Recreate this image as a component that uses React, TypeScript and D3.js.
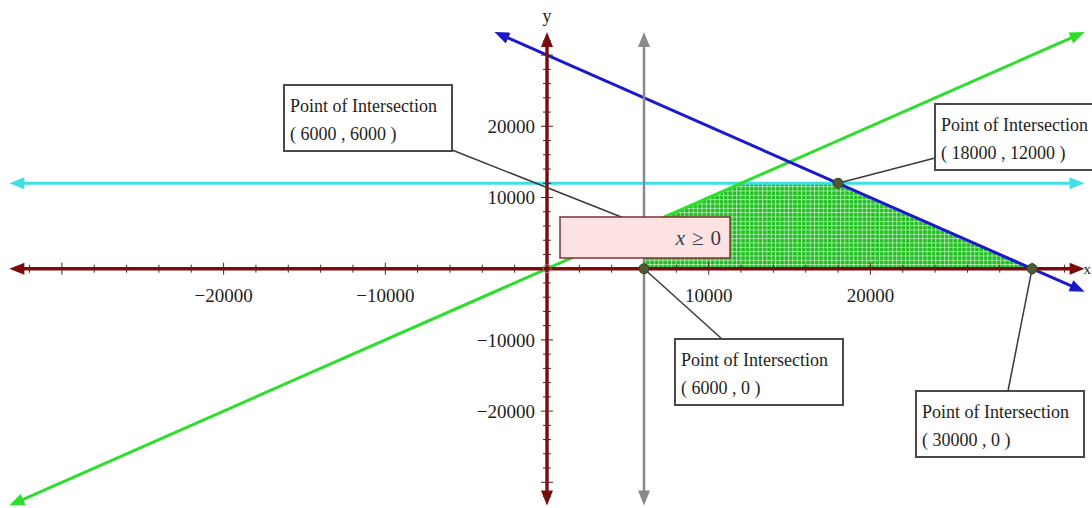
import React from 'react';
import * as d3 from 'd3';

// ---- data ----
const xTickValues = [-20000, -10000, 10000, 20000];
const yTickValues = [-20000, -10000, 10000, 20000];
const minorStep = 2000;
const plotExtent = 33250;

// constraint lines
const horizontalLines = [{ name: 'y = 12000', y: 12000 }];
const verticalLines = [{ name: 'x = 6000', x: 6000 }];
// y = a + b*x
const slopedLines = [
  { name: 'y = x', a: 0, b: 1 },
  { name: 'x + y = 30000', a: 30000, b: -1 },
];

const feasibleRegion: [number, number][] = [
  [6000, 0], [6000, 6000], [12000, 12000], [18000, 12000], [30000, 0],
];

const intersectionLabels = ['( 6000 , 6000 )', '( 18000 , 12000 )', '( 6000 , 0 )', '( 30000 , 0 )'];
const intersectionX = [6000, 18000, 6000, 30000];
const intersectionY = [6000, 12000, 0, 0];

const W = 1092;
const H = 508;
const FONT = '"Liberation Serif", "Times New Roman", serif';

function arrowHead(x0: number, y0: number, x1: number, y1: number, len = 15, w = 12) {
  const dx = x1 - x0, dy = y1 - y0;
  const L = Math.hypot(dx, dy);
  const ux = dx / L, uy = dy / L;
  const bx = x1 - ux * len, by = y1 - uy * len;
  const px = -uy, py = ux;
  return `M${x1},${y1}L${bx + (px * w) / 2},${by + (py * w) / 2}L${bx - (px * w) / 2},${by - (py * w) / 2}Z`;
}

function ArrowLine({ x0, y0, x1, y1, color, width = 3 }: any) {
  const dx = x1 - x0, dy = y1 - y0;
  const L = Math.hypot(dx, dy);
  const ux = dx / L, uy = dy / L;
  const s = 9;
  return (
    <g>
      <line x1={x0 + ux * s} y1={y0 + uy * s} x2={x1 - ux * s} y2={y1 - uy * s} stroke={color} strokeWidth={width} />
      <path d={arrowHead(x0, y0, x1, y1)} fill={color} />
      <path d={arrowHead(x1, y1, x0, y0)} fill={color} />
    </g>
  );
}

export default function App() {
  const x = d3.scaleLinear().domain([-20000, 20000]).range([223.6, 870.4]);
  const y = d3.scaleLinear().domain([-20000, 20000]).range([411.1, 126.3]);
  const E = plotExtent;

  const maroon = '#7c0a0a';
  const blue = '#1a1ac8';
  const green = '#2ede2e';
  const cyan = '#3ee0e6';
  const grayC = '#8a8a8a';
  const textC = '#1e1e1e';
  const lineColors: Record<string, string> = { 'y = x': green, 'x + y = 30000': blue };

  const minorTicks = d3.range(-32000, 32001, minorStep).filter((v) => v !== 0);

  const regionPath = d3.line()(feasibleRegion.map(([a, b]) => [x(a), y(b)] as [number, number]))! + 'Z';

  // annotation boxes (layout)
  const boxes = [
    { left: 284, top: 85, ax: 452, ay: 150 },
    { left: 935, top: 104, ax: 935, ay: 158 },
    { left: 675, top: 339, ax: 722, ay: 339 },
    { left: 916, top: 391, ax: 1008, ay: 391 },
  ];
  const boxW = 168, boxH = 66;

  return (
    <div style={{ position: 'absolute', left: 0, top: 0 }}>
      <svg width={W} height={H} style={{ display: 'block', background: '#fff' }} fontFamily={FONT}>
        <defs>
          <pattern id="hatch" width="4.33" height="4.33" patternUnits="userSpaceOnUse">
            <rect width="4.33" height="4.33" fill="#1fbf1f" />
            <line x1="0.5" y1="0" x2="0.5" y2="4.33" stroke="#ffffff" strokeOpacity="0.55" strokeWidth="1" />
            <line x1="0" y1="0.5" x2="4.33" y2="0.5" stroke="#ffffff" strokeOpacity="0.55" strokeWidth="1" />
          </pattern>
        </defs>

        {/* feasible region */}
        <path d={regionPath} fill="url(#hatch)" />

        {/* constraint lines */}
        {horizontalLines.map((l) => (
          <ArrowLine key={l.name} x0={x(-E)} y0={y(l.y)} x1={x(E)} y1={y(l.y)} color={cyan} width={3} />
        ))}
        {slopedLines.map((l) => {
          const xa = (-E - l.a) / l.b, xb = (E - l.a) / l.b;
          const xs = Math.max(-E, Math.min(xa, xb));
          const xe = Math.min(E, Math.max(xa, xb));
          return (
            <ArrowLine key={l.name} x0={x(xs)} y0={y(l.a + l.b * xs)} x1={x(xe)} y1={y(l.a + l.b * xe)}
              color={lineColors[l.name]} width={3} />
          );
        })}
        {verticalLines.map((l) => (
          <ArrowLine key={l.name} x0={x(l.x)} y0={y(-E)} x1={x(l.x)} y1={y(E)} color={grayC} width={2.5} />
        ))}

        {/* axes */}
        <ArrowLine x0={x(-E)} y0={y(0)} x1={x(E)} y1={y(0)} color={maroon} width={3.4} />
        <ArrowLine x0={x(0)} y0={y(-E)} x1={x(0)} y1={y(E)} color={maroon} width={3.4} />
        {minorTicks.map((v) => {
          const major = v % 10000 === 0;
          const h = major ? 6 : 4;
          return (
            <g key={'t' + v} stroke="#5a2020" strokeWidth={1}>
              <line x1={x(v)} x2={x(v)} y1={y(0) - h} y2={y(0) + h} />
              <line x1={x(0) - h} x2={x(0) + h} y1={y(v)} y2={y(v)} />
            </g>
          );
        })}
        {xTickValues.map((v) => (
          <text key={'xl' + v} x={x(v)} y={y(0) + 33} textAnchor="middle" fontSize={19} fill={textC}>
            {v < 0 ? '\u2212' + Math.abs(v) : String(v)}
          </text>
        ))}
        {yTickValues.map((v) => (
          <text key={'yl' + v} x={x(0) - 12} y={y(v)} dy="0.35em" textAnchor="end" fontSize={19} fill={textC}>
            {v < 0 ? '\u2212' + Math.abs(v) : String(v)}
          </text>
        ))}
        <text x={x(0)} y={22} textAnchor="middle" fontSize={18} fill={textC}>y</text>
        <text x={1091} y={y(0) + 5} textAnchor="end" fontSize={15} fill={textC}>x</text>

        {/* origin marker */}
        <circle cx={x(0)} cy={y(0)} r={4} fill="none" stroke="#c07070" strokeWidth={1} />

        {/* leader lines */}
        {intersectionX.map((vx, i) => (
          <line key={'ld' + i} x1={x(vx)} y1={y(intersectionY[i])} x2={boxes[i].ax} y2={boxes[i].ay}
            stroke="#3a3a3a" strokeWidth={1.5} />
        ))}

        {/* intersection points */}
        {intersectionX.map((vx, i) => (
          <circle key={'pt' + i} cx={x(vx)} cy={y(intersectionY[i])} r={5} fill="#4f5a34" stroke="#3c4428" strokeWidth={1} />
        ))}

        {/* annotation boxes */}
        {intersectionLabels.map((lab, i) => {
          const b = boxes[i];
          return (
            <g key={'bx' + i}>
              <rect x={b.left} y={b.top} width={boxW} height={boxH} fill="#ffffff" stroke="#4a4a4a" strokeWidth={2} />
              <text x={b.left + 6} y={b.top + 27} fontSize={18} fill={textC}>Point of Intersection</text>
              <text x={b.left + 6} y={b.top + 55} fontSize={18} fill={textC}>{lab}</text>
            </g>
          );
        })}

        {/* constraint label */}
        <rect x={560} y={217} width={170} height={41} fill="#fde2e2" stroke="#7a3434" strokeWidth={1.5} />
        <text x={721} y={245} textAnchor="end" fontSize={21} fill="#3a3a4a">
          <tspan fontStyle="italic">x</tspan>
          <tspan dx={7}>≥</tspan>
          <tspan dx={7}>0</tspan>
        </text>
      </svg>
    </div>
  );
}
